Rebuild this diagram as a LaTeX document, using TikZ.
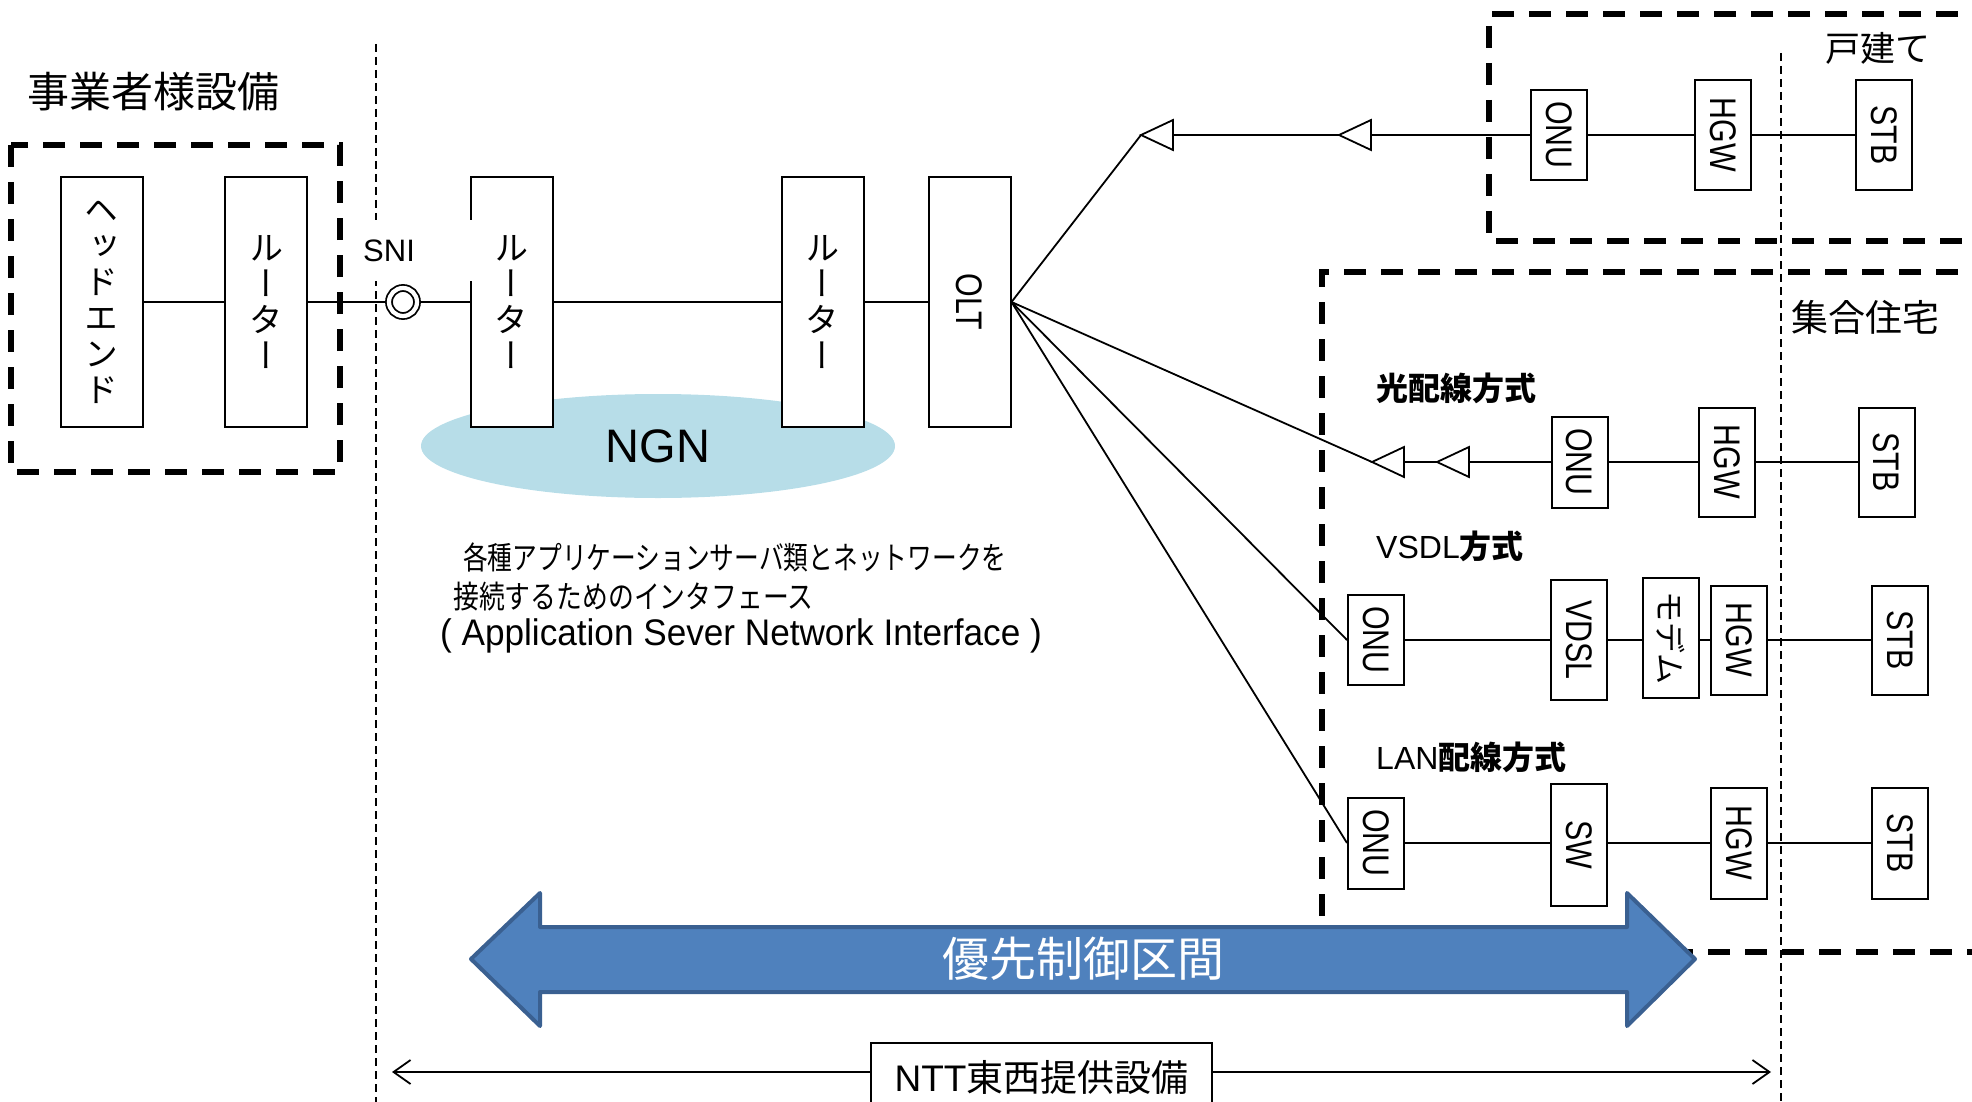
\documentclass[tikz,border=0pt]{standalone}
\usepackage{fontspec}
\usepackage{graphicx}
\usetikzlibrary{shapes.geometric,arrows.meta}
\setmainfont{Liberation Sans}
\newfontfamily\jp{Noto Sans CJK JP}
\newfontfamily\jpvert[RawFeature=+vert]{Noto Sans CJK JP}
\newfontfamily\jpnarrow[FakeStretch=0.82]{Noto Sans CJK JP}
\newfontfamily\jpnarrower[FakeStretch=0.785]{Noto Sans CJK JP}
\newfontfamily\devfont[FakeStretch=0.82]{Liberation Sans}
\newfontfamily\capfont[FakeStretch=0.95]{Liberation Sans}
\definecolor{ngnblue}{HTML}{B7DDE8}
\definecolor{prioblue}{HTML}{4F81BD}
\definecolor{prioedge}{HTML}{3A6091}
\newcommand\setfs[2]{\fontsize{#1}{#2}\selectfont}
% device label, turned to read top to bottom
\newcommand\devtext[1]{\rotatebox{-90}{\devfont\setfs{37}{37}#1}}
\tikzset{
  dev/.style={draw, line width=2pt, fill=white, inner sep=0pt, minimum width=56pt},
  tall/.style={dev, minimum width=82pt, minimum height=249pt, align=center, font=\jpvert\setfs{34}{36}},
  conn/.style={line width=1.8pt},
  grp/.style={line width=5.5pt, dash pattern=on 22pt off 15pt},
  bound/.style={line width=1.8pt, dash pattern=on 8pt off 5pt},
  tri/.style={line width=1.8pt, fill=white, line join=miter},
  lbl/.style={inner sep=0pt},
}
\begin{document}
\begin{tikzpicture}[x=1pt, y=-1pt]
\useasboundingbox (0,0) rectangle (1972,1102);
\clip (0,0) rectangle (1972,1102);

% demarcation lines
\coordinate (sniTop) at (376,44);
\coordinate (sniBot) at (376,1102);
\coordinate (homeTop) at (1781,53);
\coordinate (homeBot) at (1781,1102);
\draw[bound] (sniTop) -- (sniBot);
\draw[bound] (homeTop) -- (homeBot);

% equipment groups
\draw[grp] (11,145) rectangle (340,472);
\draw[grp] (1995,14) -- (1489,14) -- (1489,241) -- (1995,241);
\draw[grp] (1995,272) -- (1322,272) -- (1322,952) -- (1995,952);

% NGN cloud
\node[ellipse, fill=ngnblue, minimum width=474pt, minimum height=104pt, inner sep=0pt,
      font=\setfs{47}{47}] (ngn) at (658,446) {NGN};

% provider side and NGN core
\node[tall] (he) at (101.5,302) {ヘ\\ッ\\ド\\エ\\ン\\ド};
\node[tall] (r1) at (266,302) {ル\\ー\\タ\\ー};
\node[tall] (r2) at (511.5,302) {ル\\ー\\タ\\ー};
\node[tall] (r3) at (822.5,302) {ル\\ー\\タ\\ー};
\node[dev, minimum width=82pt, minimum height=249pt] (olt) at (969.5,302) {\devtext{OLT}};

% SNI point and its label
\node[circle, draw, fill=white, double, double distance=4.2pt, line width=1.8pt,
      minimum size=28pt, inner sep=0pt, outer sep=4pt] (sni) at (403,302) {};
\node[fill=white, inner xsep=13pt, inner ysep=0pt, text width=96pt, align=left,
      minimum height=61pt, anchor=west, font=\setfs{31}{31}] (snilbl) at (350,250.5) {SNI};

% detached house
\node[dev, minimum height=90pt] (onuA) at (1559,135) {\devtext{ONU}};
\node[dev, minimum height=110pt] (hgwA) at (1723,135) {\devtext{HGW}};
\node[dev, minimum height=110pt] (stbA) at (1884,135) {\devtext{STB}};

% apartment, optical wiring
\node[dev, minimum height=91pt] (onuB) at (1579.5,462) {\devtext{ONU}};
\node[dev, minimum height=109pt] (hgwB) at (1727,462) {\devtext{HGW}};
\node[dev, minimum height=109pt] (stbB) at (1886.5,462) {\devtext{STB}};

% apartment, VDSL
\node[dev, minimum height=90pt] (onuC) at (1376,640) {\devtext{ONU}};
\node[dev, minimum height=120pt] (vdsl) at (1579,640) {\devtext{VDSL}};
\node[dev, minimum height=120pt] (modem) at (1671,638) {\rotatebox{-90}{\jp\setfs{31}{31}モデム}};
\node[dev, minimum height=109pt] (hgwC) at (1739,640) {\devtext{HGW}};
\node[dev, minimum height=109pt] (stbC) at (1900,640) {\devtext{STB}};

% apartment, LAN wiring
\node[dev, minimum height=91pt] (onuD) at (1376,843) {\devtext{ONU}};
\node[dev, minimum height=122pt] (sw) at (1579,845) {\devtext{SW}};
\node[dev, minimum height=111pt] (hgwD) at (1739,843) {\devtext{HGW}};
\node[dev, minimum height=111pt] (stbD) at (1900,843) {\devtext{STB}};

% splitters: apex and base midpoint
\coordinate (t1a) at (1141,135); \coordinate (t1b) at (1173,135);
\coordinate (t2a) at (1339,135); \coordinate (t2b) at (1371,135);
\coordinate (t3a) at (1372,462); \coordinate (t3b) at (1404,462);
\coordinate (t4a) at (1437,462); \coordinate (t4b) at (1469,462);

% links
\draw[conn] (he.east) -- (r1.west);
\draw[conn] (r1.east) -- (sni.west);
\draw[conn] (sni.east) -- (r2.west);
\draw[conn] (r2.east) -- (r3.west);
\draw[conn] (r3.east) -- (olt.west);

\draw[conn] (olt.east) -- (t1a);
\draw[conn] (t1b) -- (t2a);
\draw[conn] (t2b) -- (onuA.west);
\draw[conn] (onuA.east) -- (hgwA.west);
\draw[conn] (hgwA.east) -- (stbA.west);

\draw[conn] (olt.east) -- (t3a);
\draw[conn] (t3b) -- (t4a);
\draw[conn] (t4b) -- (onuB.west);
\draw[conn] (onuB.east) -- (hgwB.west);
\draw[conn] (hgwB.east) -- (stbB.west);

\draw[conn] (olt.east) -- (onuC.west);
\draw[conn] (onuC.east) -- (vdsl.west);
\draw[conn] (vdsl.east) -- (modem.west |- vdsl.east);
\draw[conn] (modem.east |- vdsl.east) -- (hgwC.west);
\draw[conn] (hgwC.east) -- (stbC.west);

\draw[conn] (olt.east) -- (onuD.west);
\draw[conn] (onuD.east) -- (sw.west |- onuD.east);
\draw[conn] (sw.east |- onuD.east) -- (hgwD.west);
\draw[conn] (hgwD.east) -- (stbD.west);

% splitter symbols
\foreach \t in {t1,t2,t3,t4}
  \draw[tri] (\t a) -- ([yshift=15pt]\t b) -- ([yshift=-15pt]\t b) -- cycle;

% priority control section
\draw[fill=prioblue, draw=prioedge, line width=4pt, line join=round]
  (471,959) -- (540,893) -- (540,927) -- (1627,927) -- (1627,893) -- (1695,959)
  -- (1627,1026) -- (1627,992) -- (540,992) -- (540,1026) -- cycle;
\node[lbl, text=white, font=\jp\setfs{47}{47}] (prio) at (1083,959) {優先制御区間};

% scope of NTT East/West equipment
\coordinate (nttL) at (392,1072);
\coordinate (nttR) at (1771,1072);
\draw[conn, {Straight Barb[length=17pt,width=24pt]}-{Straight Barb[length=17pt,width=24pt]}] (nttL) -- (nttR);
\node[draw, line width=1.8pt, fill=white, minimum width=341pt, minimum height=68pt, inner sep=0pt,
      font=\setfs{37}{37}] (ntt) at (1041.5,1077) {NTT{\jp 東西提供設備}};

% captions
\node[lbl, font=\jp\setfs{42}{42}] (prov) at (153.5,92) {事業者様設備};
\node[lbl, font=\jp\setfs{35}{35}] (house) at (1878,48) {戸建て};
\node[lbl, font=\jp\setfs{37}{37}] (apt) at (1865.5,317) {集合住宅};
\node[lbl, anchor=west, font=\setfs{32}{32}] (optl) at (1376,388) {{\jp\bfseries 光配線方式}};
\node[lbl, anchor=west, font=\setfs{32}{32}] (vdsll) at (1376,546) {VSDL{\jp\bfseries 方式}};
\node[lbl, anchor=west, font=\setfs{32}{32}] (lanl) at (1376,757) {LAN{\jp\bfseries 配線方式}};

\node[lbl, anchor=west, font=\jpnarrower\setfs{31.5}{31.5}] (desc1) at (463,557) {各種アプリケーションサーバ類とネットワークを};
\node[lbl, anchor=west, font=\jpnarrow\setfs{31.5}{31.5}] (desc2) at (453,597) {接続するためのインタフェース};
\node[lbl, anchor=west, font=\capfont\setfs{37}{37}] (desc3) at (440,636) {( Application Sever Network Interface )};
\end{tikzpicture}
\end{document}
